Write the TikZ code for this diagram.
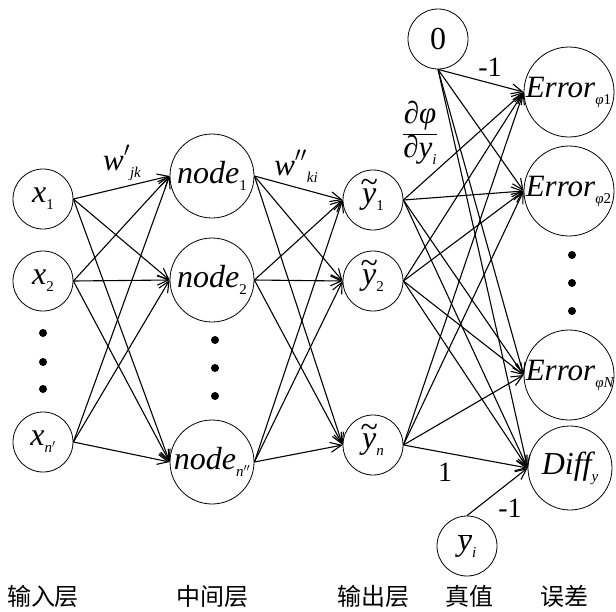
\documentclass[tikz,border=0pt]{standalone}
\usepackage{fontspec}
\setmainfont{Liberation Serif}
\newfontfamily\cjk{Noto Sans CJK SC}
\usetikzlibrary{arrows.meta}

% lowered small subscript
\newcommand\lsub[1]{\raisebox{-7pt}{\fontsize{15}{15}\selectfont #1}}
% italic y with a wide tilde or a bar above it
\newcommand\tily{\ooalign{\itshape y\cr
  \hidewidth\raisebox{11pt}{\upshape\char"007E}\hidewidth\cr}}
\newcommand\bary{$\overline{\mbox{\itshape y}}$}

\tikzset{
  neuron/.style={circle, draw, line width=0.8pt, inner sep=0pt,
                 font=\fontsize{32}{38}\selectfont},
  small/.style={neuron, minimum size=60pt},
  big/.style={neuron, minimum size=84pt},
  err/.style={neuron, minimum size=90pt},
  txt/.style={inner sep=0pt, font=\fontsize{31}{36}\selectfont},
  link/.style={line width=1.1pt, -{Straight Barb[length=11pt,width=10pt]}},
  dot/.style={circle, fill, inner sep=0pt, minimum size=8pt},
  wlab/.style={inner sep=0pt, font=\fontsize{31}{36}\selectfont},
  num/.style={inner sep=0pt, font=\fontsize{28}{32}\selectfont},
  layer/.style={inner sep=0pt, font=\cjk\fontsize{24}{26}\selectfont},
}

\begin{document}
\begin{tikzpicture}[x=1pt, y=-1pt]
\useasboundingbox (0,0) rectangle (616,611);

% input layer
\node[small] (x1) at (43,199) {\itshape x\lsub{\upshape 1}};
\node[small] (x2) at (43,281) {\itshape x\lsub{\upshape 2}};
\node[small] (xn) at (43,442) {\itshape x\lsub{\itshape n$'$}};
\node[dot] (dx1) at (43,333) {};
\node[dot] (dx2) at (43,362) {};
\node[dot] (dx3) at (43,389) {};

% hidden layer
\node[big] (n1) at (212,176) {\itshape node\lsub{\upshape 1}};
\node[big] (n2) at (212,280) {\itshape node\lsub{\upshape 2}};
\node[big] (nn) at (212,462) {\itshape node\lsub{\itshape n$''$}};
\node[dot] (dn1) at (215,340) {};
\node[dot] (dn2) at (215,368) {};
\node[dot] (dn3) at (215,396) {};

% output layer
\node[small] (y1) at (373,200) {\tily\lsub{\upshape 1}};
\node[small] (y2) at (373,281) {\tily\lsub{\upshape 2}};
\node[small] (yn) at (373,445) {\tily\lsub{\itshape n}};

% true values
\node[small] (zero) at (438,39) {0};
\node[small] (ybar) at (467,546) {\bary\lsub{\itshape i}};

% error terms
\node[err] (e1) at (569,92) {};
\node[err] (e2) at (569,191) {};
\node[err] (eN) at (569,375) {};
\node[big] (diff) at (570,468) {\itshape Diff\lsub{y}};
\node[txt, anchor=west] (e1t) at ([xshift=2pt]e1.west) {\itshape Error\lsub{φ\upshape 1}};
\node[txt, anchor=west] (e2t) at ([xshift=2pt]e2.west) {\itshape Error\lsub{φ\upshape 2}};
\node[txt, anchor=west] (eNt) at ([xshift=2pt]eN.west) {\itshape Error\lsub{φN}};
\node[dot] (de1) at (572,255) {};
\node[dot] (de2) at (572,283) {};
\node[dot] (de3) at (572,311) {};

% connections
\foreach \a in {x1,x2,xn}
  \foreach \b in {n1,n2,nn}
    \draw[link] (\a.east) -- (\b.west);
\foreach \a in {n1,n2,nn}
  \foreach \b in {y1,y2,yn}
    \draw[link] (\a.east) -- (\b.west);
\foreach \a in {y1,y2,yn}
  \foreach \b in {e1,e2,eN,diff}
    \draw[link] (\a.east) -- (\b.west);
\foreach \b in {e1,e2,eN,diff}
  \draw[link] (zero.south) -- (\b.west);
\draw[link] (ybar.north) -- (diff.west);

% weight labels
\node[wlab] (wjk) at (122,163) {\itshape w\raisebox{5pt}{$'$}\lsub{jk}};
\node[wlab] (wki) at (296,166) {\itshape w\raisebox{5pt}{$''$}\lsub{ki}};
\node[wlab] (dphi) at (420,133)
  {$\displaystyle\frac{\mbox{∂\itshape φ}}{\mbox{∂\itshape y\lsub{i}}}$};
\node[num] (m1a) at (490,67) {-1};
\node[num] (p1) at (445,472) {1};
\node[num] (m1b) at (510,508) {-1};

% layer names
\node[layer] (l1) at (43,596) {输入层};
\node[layer] (l2) at (212,596) {中间层};
\node[layer] (l3) at (373,596) {输出层};
\node[layer] (l4) at (469,596) {真值};
\node[layer] (l5) at (564,596) {误差};
\end{tikzpicture}
\end{document}
